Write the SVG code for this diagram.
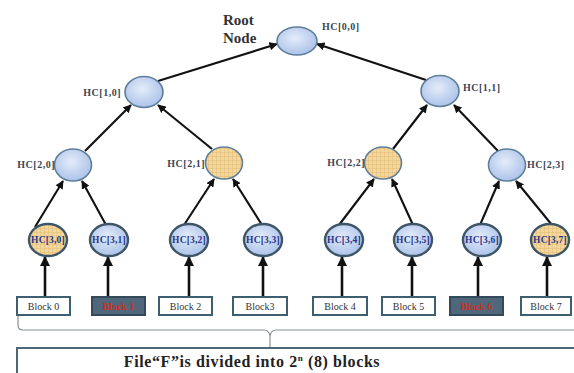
<svg xmlns="http://www.w3.org/2000/svg" width="574" height="373" viewBox="0 0 574 373">
  <defs>
    <radialGradient id="blueFill" cx="45%" cy="40%" r="65%">
      <stop offset="0" stop-color="#e4ecf9"/>
      <stop offset="1" stop-color="#a7bfe8"/>
    </radialGradient>
    <pattern id="grid" width="4" height="4" patternUnits="userSpaceOnUse">
      <rect width="4" height="4" fill="#f3d79c"/>
      <path d="M0 0.5H4M0.5 0V4" stroke="#e6c27e" stroke-width="0.7"/>
    </pattern>
    <marker id="arrow" viewBox="0 0 10 10" refX="9" refY="5" markerWidth="4" markerHeight="4" orient="auto" markerUnits="strokeWidth">
      <path d="M0 0L10 5L0 10z" fill="#111"/>
    </marker>
  </defs>
  <style>
    .edge { stroke: #111; stroke-width: 2.1; fill: none; marker-end: url(#arrow); }
    .up { stroke-width: 2.6; }
    .hc { stroke: #5f7e99; stroke-width: 1.6; }
    .hc3 { stroke: #3d5566; stroke-width: 2.4; }
    .blue { fill: url(#blueFill); }
    .gold { fill: url(#grid); }
    .lbl { font-family: "Liberation Serif", serif; font-weight: bold; font-size: 10px; letter-spacing: 0.5px; fill: #3b4654; }
    .in { font-family: "Liberation Serif", serif; font-weight: bold; font-size: 9.5px; letter-spacing: 0.2px; fill: #27358a; text-anchor: middle; }
    .blk { fill: #ffffff; stroke: #3e5f70; stroke-width: 2; }
    .blkx { fill: #4f667b; stroke: #34495a; stroke-width: 2; }
    .bt { font-family: "Liberation Serif", serif; font-size: 10px; fill: #333; text-anchor: middle; }
    .btx { font-family: "Liberation Serif", serif; font-weight: bold; font-size: 10px; fill: #c8322a; text-anchor: middle; }
  </style>

  <rect width="574" height="373" fill="#ffffff"/>

  <!-- connectors -->
  <g id="connectors">
    <line class="edge" x1="158" y1="81" x2="277" y2="44"/>
    <line class="edge" x1="426" y1="80" x2="317" y2="44"/>
    <line class="edge" x1="85" y1="151" x2="131" y2="105"/>
    <line class="edge" x1="212" y1="149" x2="158" y2="105"/>
    <line class="edge" x1="393" y1="149" x2="427" y2="105"/>
    <line class="edge" x1="498" y1="151" x2="454" y2="105"/>
    <line class="edge" x1="35" y1="227" x2="63" y2="181"/>
    <line class="edge" x1="106" y1="225" x2="82" y2="181"/>
    <line class="edge" x1="184" y1="225" x2="214" y2="179"/>
    <line class="edge" x1="262" y1="225" x2="233" y2="179"/>
    <line class="edge" x1="339" y1="225" x2="374" y2="179"/>
    <line class="edge" x1="413" y1="225" x2="392" y2="179"/>
    <line class="edge" x1="480" y1="225" x2="499" y2="181"/>
    <line class="edge" x1="552" y1="225" x2="516" y2="181"/>
    <line class="edge up" x1="45" y1="297" x2="45" y2="257"/>
    <line class="edge up" x1="108" y1="297" x2="108" y2="257"/>
    <line class="edge up" x1="189" y1="297" x2="189" y2="257"/>
    <line class="edge up" x1="263" y1="297" x2="263" y2="257"/>
    <line class="edge up" x1="342" y1="297" x2="342" y2="257"/>
    <line class="edge up" x1="412" y1="297" x2="412" y2="257"/>
    <line class="edge up" x1="478" y1="297" x2="478" y2="257"/>
    <line class="edge up" x1="547" y1="297" x2="547" y2="257"/>
    <!-- brace grouping the blocks -->
    <path d="M18 316V325Q18 330 23 330H264Q269 330 270 336V347M270 336Q271 330 276 330H580" stroke="#8a8f96" stroke-width="1.2" fill="none"/>
  </g>

  <!-- root -->
  <g id="root">
    <text x="223" y="25" font-family="Liberation Serif, serif" font-weight="bold" font-size="15" fill="#333">Root</text>
    <text x="223" y="43" font-family="Liberation Serif, serif" font-weight="bold" font-size="15" fill="#333">Node</text>
    <ellipse class="hc blue" cx="297" cy="41" rx="20" ry="14"/>
    <text class="lbl" x="322" y="30">HC[0,0]</text>
  </g>

  <!-- level 1 -->
  <g id="hc10">
    <ellipse class="hc blue" cx="144" cy="92" rx="19" ry="15.5"/>
    <text class="lbl" x="121" y="96" text-anchor="end">HC[1,0]</text>
  </g>
  <g id="hc11">
    <ellipse class="hc blue" cx="440" cy="91" rx="19" ry="15.5"/>
    <text class="lbl" x="463" y="91">HC[1,1]</text>
  </g>

  <!-- level 2 -->
  <g id="hc20">
    <ellipse class="hc blue" cx="73" cy="165" rx="18.5" ry="16"/>
    <text class="lbl" x="55" y="168" text-anchor="end">HC[2,0]</text>
  </g>
  <g id="hc21">
    <ellipse class="hc gold" cx="224" cy="163" rx="18.5" ry="16"/>
    <text class="lbl" x="205" y="167" text-anchor="end">HC[2,1]</text>
  </g>
  <g id="hc22">
    <ellipse class="hc gold" cx="383" cy="163" rx="18.5" ry="16"/>
    <text class="lbl" x="365" y="166" text-anchor="end">HC[2,2]</text>
  </g>
  <g id="hc23">
    <ellipse class="hc blue" cx="507" cy="165" rx="18.5" ry="16"/>
    <text class="lbl" x="527" y="168">HC[2,3]</text>
  </g>

  <!-- level 3 -->
  <g id="hc30">
    <ellipse class="hc3 gold" cx="48" cy="240" rx="19" ry="16"/>
    <text class="in" x="48" y="243">HC[3,0]</text>
  </g>
  <g id="hc31">
    <ellipse class="hc3 blue" cx="109" cy="240" rx="19" ry="16"/>
    <text class="in" x="109" y="243">HC[3,1]</text>
  </g>
  <g id="hc32">
    <ellipse class="hc3 blue" cx="189" cy="240" rx="19" ry="16"/>
    <text class="in" x="189" y="243">HC[3,2]</text>
  </g>
  <g id="hc33">
    <ellipse class="hc3 blue" cx="263" cy="240" rx="19" ry="16"/>
    <text class="in" x="263" y="243">HC[3,3]</text>
  </g>
  <g id="hc34">
    <ellipse class="hc3 blue" cx="344" cy="240" rx="19" ry="16"/>
    <text class="in" x="344" y="243">HC[3,4]</text>
  </g>
  <g id="hc35">
    <ellipse class="hc3 blue" cx="413" cy="240" rx="19" ry="16"/>
    <text class="in" x="413" y="243">HC[3,5]</text>
  </g>
  <g id="hc36">
    <ellipse class="hc3 blue" cx="482" cy="240" rx="19" ry="16"/>
    <text class="in" x="482" y="243">HC[3,6]</text>
  </g>
  <g id="hc37">
    <ellipse class="hc3 gold" cx="550" cy="240" rx="19" ry="16"/>
    <text class="in" x="550" y="243">HC[3,7]</text>
  </g>

  <!-- data blocks -->
  <g id="block0">
    <rect class="blk" x="17" y="297" width="53" height="18"/>
    <text class="bt" x="43.5" y="309.5">Block 0</text>
  </g>
  <g id="block1">
    <rect class="blkx" x="92" y="297" width="53" height="18"/>
    <text class="btx" x="118.5" y="309.5">Block 1</text>
  </g>
  <g id="block2">
    <rect class="blk" x="159" y="297" width="53" height="18"/>
    <text class="bt" x="185.5" y="309.5">Block 2</text>
  </g>
  <g id="block3">
    <rect class="blk" x="233" y="297" width="54" height="18"/>
    <text class="bt" x="260" y="309.5">Block3</text>
  </g>
  <g id="block4">
    <rect class="blk" x="313" y="297" width="54" height="18"/>
    <text class="bt" x="340" y="309.5">Block 4</text>
  </g>
  <g id="block5">
    <rect class="blk" x="382" y="297" width="53" height="18"/>
    <text class="bt" x="408.5" y="309.5">Block 5</text>
  </g>
  <g id="block6">
    <rect class="blkx" x="450" y="297" width="53" height="18"/>
    <text class="btx" x="476.5" y="309.5">Block 6</text>
  </g>
  <g id="block7">
    <rect class="blk" x="521" y="297" width="50" height="18"/>
    <text class="bt" x="546" y="309.5">Block 7</text>
  </g>

  <!-- file caption -->
  <g id="file">
    <rect x="17" y="348" width="570" height="30" fill="#ffffff" stroke="#4a6878" stroke-width="2"/>
    <text x="252" y="367" text-anchor="middle" font-family="Liberation Serif, serif" font-weight="bold" font-size="16" letter-spacing="0.6" fill="#222">File“F”is divided into 2<tspan font-size="9" dy="-6">n</tspan><tspan dy="6"> (8) blocks</tspan></text>
  </g>
</svg>
